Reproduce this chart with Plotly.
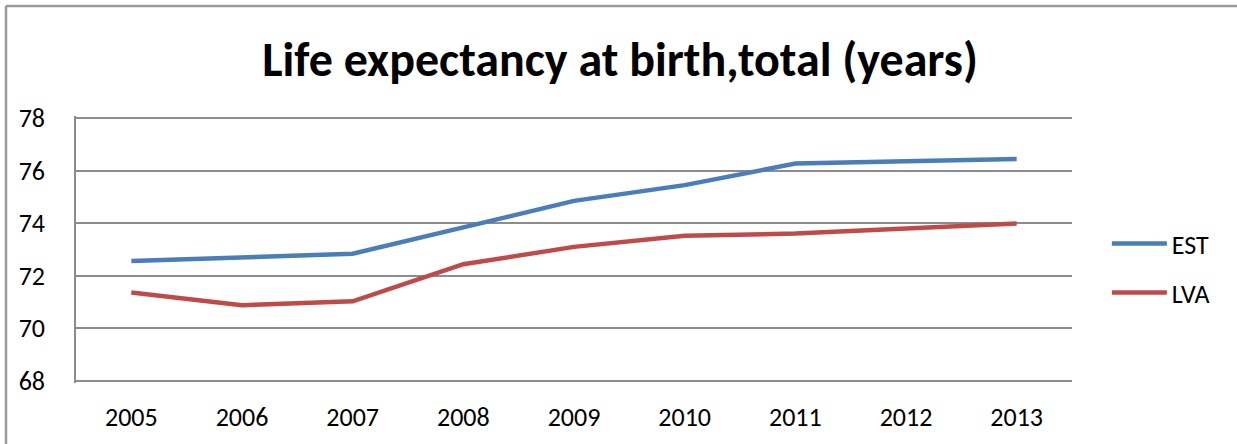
import plotly.graph_objects as go

# --- data ---
years = ["2005", "2006", "2007", "2008", "2009", "2010", "2011", "2012", "2013"]
est = [72.56, 72.69, 72.84, 73.84, 74.85, 75.45, 76.27, 76.36, 76.44]
lva = [71.36, 70.88, 71.03, 72.44, 73.10, 73.52, 73.61, 73.80, 73.99]
y_ticks = [68, 70, 72, 74, 76, 78]

font_name = "Carlito, Lato, sans-serif"
grid_col = "#8c8c8c"

fig = go.Figure()
fig.add_trace(go.Scatter(x=years, y=est, name="EST", mode="lines",
                         line=dict(color="#4a7ebb", width=4.5),
                         legendgroup="a"))
fig.add_trace(go.Scatter(x=years, y=lva, name="LVA", mode="lines",
                         line=dict(color="#be4b48", width=4.5),
                         legendgroup="b"))

fig.update_layout(
    width=1237, height=444,
    margin=dict(l=76, r=165, t=116, b=61),
    paper_bgcolor="white", plot_bgcolor="white",
    font=dict(family=font_name, size=26, color="black"),
    title=dict(text="<b>Life expectancy at birth,total (years)</b>",
               x=0.5013, xanchor="center", y=0.866, yanchor="middle",
               font=dict(family=font_name, size=48, color="black")),
    legend=dict(x=1.035, xanchor="left", y=0.43, yanchor="middle",
                font=dict(size=26), tracegroupgap=12, itemwidth=55,
                traceorder="grouped", bgcolor="rgba(0,0,0,0)"),
    showlegend=True,
)

fig.update_xaxes(type="category", range=[-0.5, 8.5], showgrid=False,
                 showline=False, zeroline=False, ticks="",
                 ticklabelstandoff=16)
fig.update_yaxes(range=[67.92, 78.08], tickvals=y_ticks, showgrid=True,
                 gridcolor=grid_col, gridwidth=1.5, zeroline=False,
                 showline=True, linecolor=grid_col, linewidth=1.5,
                 ticks="", ticklabelstandoff=24)

# outer chart frame (top and left edges)
h = 444 - 116 - 61
fig.add_shape(type="line", xref="paper", yref="paper",
              x0=(6 - 76) / 996, x1=1.2, y0=(383 - 6) / h, y1=(383 - 6) / h,
              line=dict(color="#9a9a9a", width=2.5))
fig.add_shape(type="line", xref="paper", yref="paper",
              x0=(6 - 76) / 996, x1=(6 - 76) / 996, y0=(383 - 6) / h, y1=-0.3,
              line=dict(color="#9a9a9a", width=2.5))

fig.write_html("out.html", config={"displayModeBar": False},
               post_script="document.body.style.margin='0';")
